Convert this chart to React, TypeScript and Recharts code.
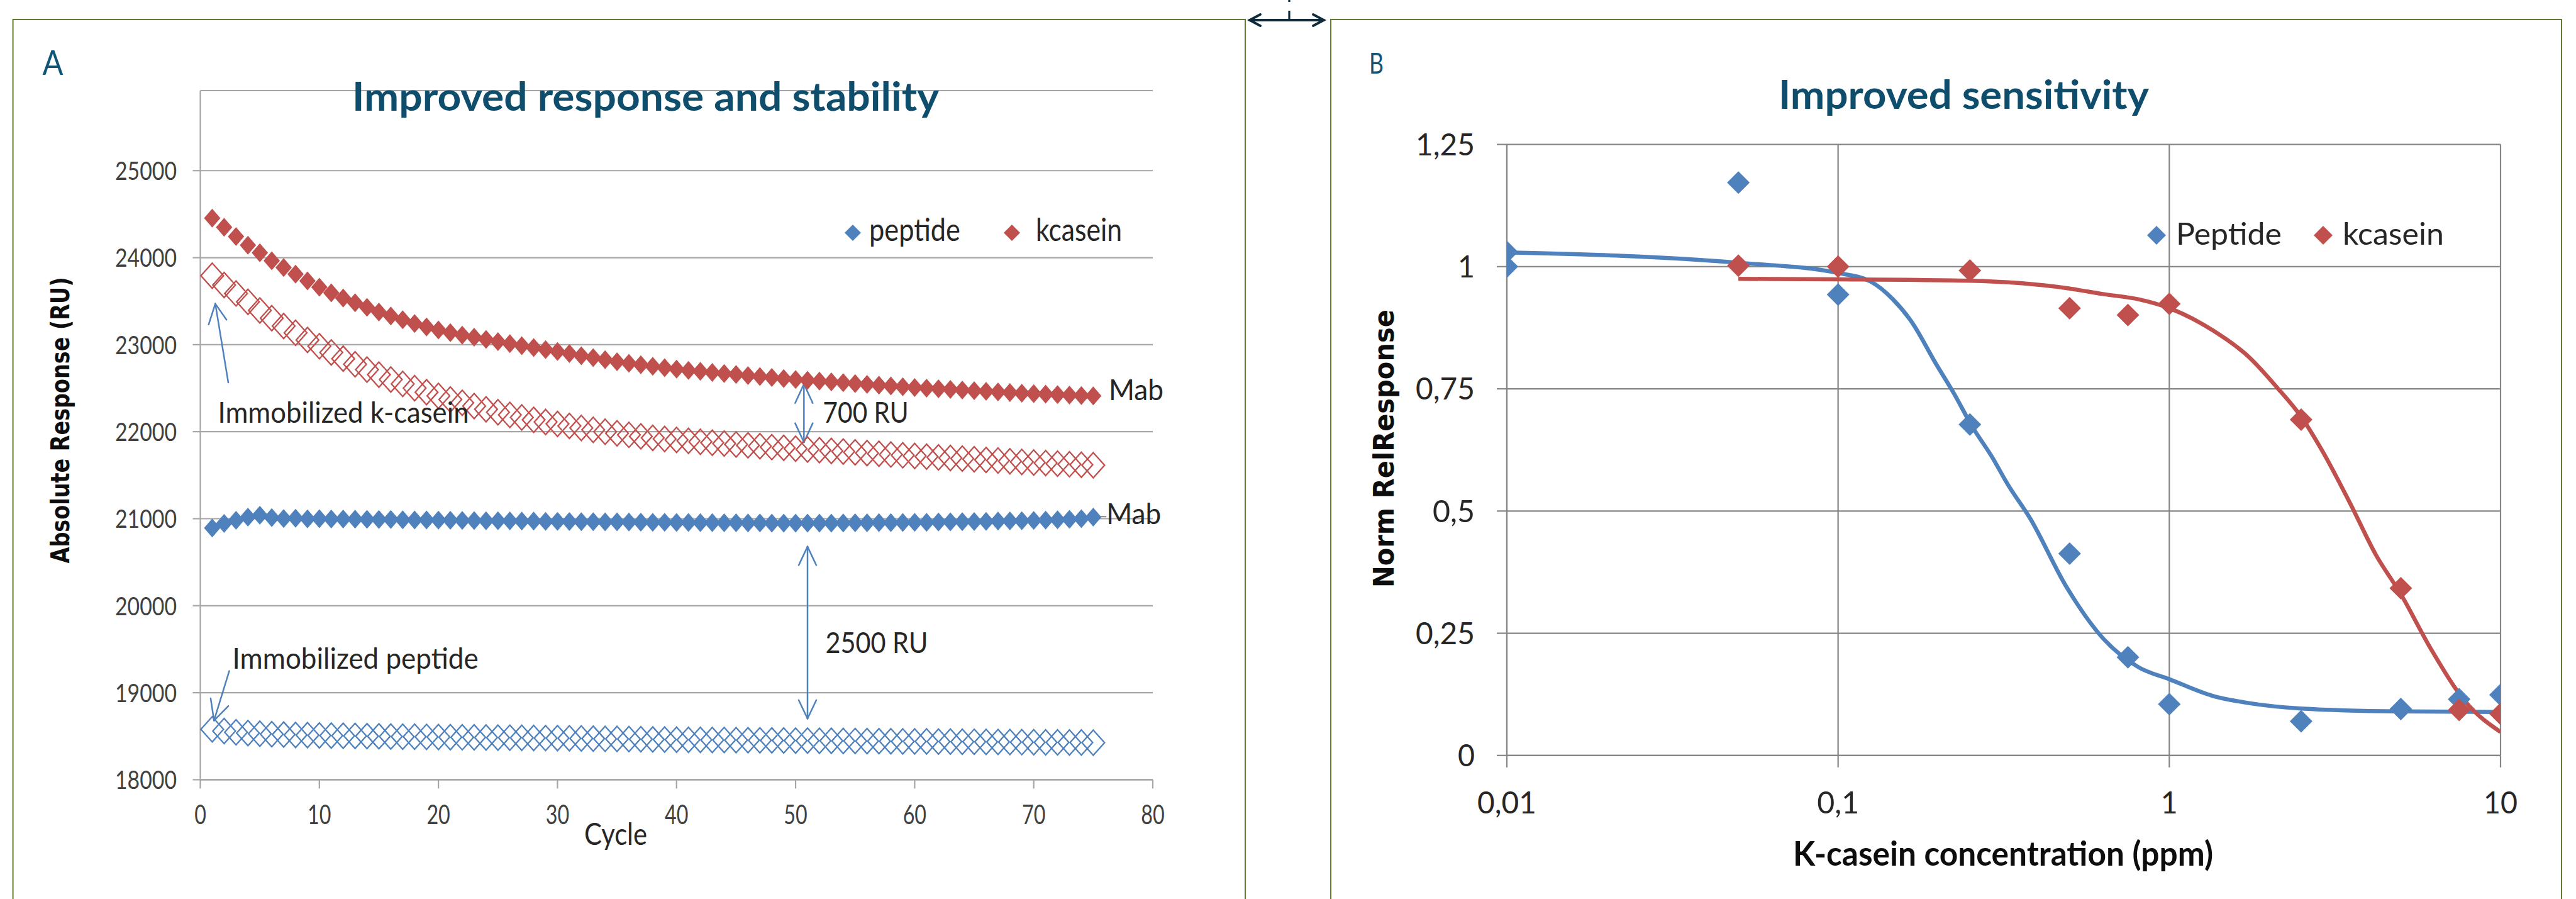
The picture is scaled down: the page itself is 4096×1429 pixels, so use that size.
import React from "react";
import {
  CartesianGrid,
  ComposedChart,
  Legend,
  Line,
  ReferenceDot,
  ReferenceLine,
  Scatter,
  XAxis,
  YAxis,
} from "recharts";

const FONT = "Lato, 'Open Sans', sans-serif";
const WIDE = "'DejaVu Sans', Verdana, sans-serif";
const BLUE = "#4f81bd";
const RED = "#c0504d";
const TEAL = "#0f4d6d";
const FRAME = "#627d33";

// ---- panel A: response per cycle (cycles 1..75) ----
const kcaseinMab = [
  24454, 24350, 24243, 24143, 24057, 23964, 23886, 23810, 23732, 23660,
  23596, 23536, 23482, 23429, 23375, 23329, 23286, 23243, 23204, 23168,
  23138, 23110, 23085, 23060, 23036, 23012, 22989, 22966, 22943, 22921,
  22897, 22873, 22850, 22827, 22804, 22786, 22769, 22752, 22735, 22718,
  22705, 22693, 22681, 22669, 22657, 22645, 22634, 22623, 22611, 22600,
  22590, 22581, 22572, 22563, 22553, 22544, 22535, 22525, 22516, 22507,
  22500, 22493, 22486, 22479, 22472, 22464, 22457, 22450, 22443, 22436,
  22431, 22426, 22421, 22416, 22411,
];
const kcaseinImm = [
  23793, 23686, 23589, 23493, 23393, 23304, 23214, 23136, 23054, 22982,
  22910, 22839, 22775, 22714, 22656, 22600, 22549, 22500, 22454, 22411,
  22370, 22332, 22294, 22257, 22224, 22193, 22164, 22136, 22112, 22089,
  22066, 22043, 22021, 22000, 21982, 21964, 21946, 21929, 21916, 21905,
  21894, 21884, 21873, 21863, 21853, 21843, 21833, 21823, 21814, 21804,
  21795, 21787, 21779, 21771, 21763, 21754, 21746, 21738, 21729, 21721,
  21713, 21705, 21698, 21690, 21683, 21675, 21668, 21660, 21652, 21645,
  21639, 21633, 21626, 21620, 21614,
];
const peptideMab = [
  20893, 20946, 20982, 21018, 21040, 21012, 21002, 21006, 20998, 21000,
  20997, 20996, 20994, 20993, 20991, 20990, 20988, 20986, 20985, 20983,
  20982, 20980, 20979, 20977, 20976, 20974, 20973, 20972, 20970, 20969,
  20968, 20966, 20965, 20964, 20963, 20962, 20960, 20959, 20958, 20957,
  20956, 20955, 20954, 20953, 20952, 20951, 20951, 20950, 20950, 20949,
  20949, 20950, 20950, 20951, 20952, 20953, 20954, 20955, 20956, 20958,
  20959, 20961, 20963, 20965, 20967, 20969, 20972, 20974, 20977, 20980,
  20984, 20988, 20993, 21000, 21018,
];
const peptideImm = [
  18580, 18560, 18545, 18536, 18529, 18523, 18519, 18515, 18512, 18509,
  18507, 18505, 18503, 18501, 18499, 18497, 18495, 18494, 18492, 18491,
  18489, 18488, 18487, 18485, 18484, 18483, 18482, 18480, 18479, 18478,
  18476, 18474, 18472, 18470, 18469, 18467, 18465, 18463, 18462, 18460,
  18459, 18458, 18457, 18456, 18455, 18454, 18453, 18452, 18451, 18450,
  18449, 18448, 18447, 18446, 18445, 18444, 18443, 18442, 18441, 18441,
  18440, 18439, 18438, 18437, 18436, 18435, 18434, 18433, 18432, 18431,
  18430, 18429, 18428, 18427, 18426,
];
const cycleTicks = [0, 10, 20, 30, 40, 50, 60, 70, 80];
const ruTicks = [18000, 19000, 20000, 21000, 22000, 23000, 24000, 25000];

// annotation anchors (data space: cycle, RU)
const notesA = [
  { x: 1.48, y: 22101, text: "Immobilized k-casein" },
  { x: 2.7, y: 19274, text: "Immobilized peptide" },
  { x: 52.3, y: 22101, text: "700 RU" },
  { x: 52.5, y: 19458, text: "2500 RU" },
  { x: 76.3, y: 22360, text: "Mab" },
  { x: 76.1, y: 20940, text: "Mab" },
];
const noteWidth: Record<string, number> = {
  "Immobilized k-casein": 399,
  "Immobilized peptide": 391,
  "700 RU": 136,
  "2500 RU": 163,
  Mab: 87,
};
// arrow strokes [x1, y1, x2, y2]
const arrowSegs = [
  [2.35, 22565, 1.26, 23470],
  [1.26, 23470, 0.7, 23232],
  [1.26, 23470, 2.2, 23286],
  [2.43, 19250, 1.15, 18680],
  [1.15, 18680, 0.87, 18936],
  [1.15, 18680, 2.35, 18847],
  [50.7, 22548, 50.7, 21878],
  [50.7, 22548, 49.96, 22328],
  [50.7, 22548, 51.44, 22328],
  [50.7, 21878, 49.96, 22098],
  [50.7, 21878, 51.44, 22098],
  [51.0, 20679, 51.0, 18702],
  [51.0, 20679, 50.26, 20465],
  [51.0, 20679, 51.74, 20465],
  [51.0, 18702, 50.26, 18916],
  [51.0, 18702, 51.74, 18916],
];
const mabLeader = [75.4, 21022, 76.1, 21022];

// ---- panel B: dose response ----
const pepX = [0.01, 0.01, 0.05, 0.1, 0.25, 0.5, 0.75, 1, 2.5, 5, 7.5, 10];
const pepY = [1.03, 1.0, 1.172, 0.943, 0.677, 0.413, 0.201, 0.105, 0.07, 0.095, 0.115, 0.124];
const casX = [0.05, 0.1, 0.25, 0.5, 0.75, 1, 2.5, 5, 7.5, 10];
const casY = [1.002, 1.0, 0.992, 0.915, 0.901, 0.924, 0.687, 0.342, 0.093, 0.085];
const pepFitX = [0.01, 0.05, 0.1, 0.125, 0.146, 0.166, 0.198, 0.224, 0.254, 0.292, 0.325, 0.38, 0.49, 0.63, 0.81, 1, 1.35, 1.74, 2.5, 5, 10];
const pepFitY = [1.029, 1.008, 0.987, 0.97, 0.934, 0.889, 0.8, 0.74, 0.673, 0.61, 0.555, 0.485, 0.344, 0.24, 0.18, 0.156, 0.122, 0.107, 0.096, 0.09, 0.089];
const casFitX = [0.05, 0.1, 0.25, 0.49, 0.63, 0.81, 1, 1.35, 1.74, 2.12, 2.5, 2.88, 3.52, 4.2, 5, 6.15, 7.9, 10];
const casFitY = [0.975, 0.974, 0.971, 0.956, 0.944, 0.933, 0.915, 0.87, 0.815, 0.752, 0.693, 0.626, 0.515, 0.411, 0.33, 0.219, 0.107, 0.048];
const concTicks = [0.01, 0.1, 1, 10];
const normTicks = [0, 0.25, 0.5, 0.75, 1, 1.25];

const byCycle = (vals: number[]) => vals.map((y, i) => ({ x: i + 1, y }));
const zip = (xs: number[], ys: number[]) => xs.map((x, i) => ({ x, y: ys[i] }));
const comma = (v: number) => String(v).replace(".", ",");

function diamond(rx: number, ry: number, fill: string, stroke = "none", sw = 0) {
  return (p: any) => {
    if (p.cx == null || p.cy == null) return <g />;
    const { cx, cy } = p;
    return (
      <polygon
        points={`${cx},${cy - ry} ${cx + rx},${cy} ${cx},${cy + ry} ${cx - rx},${cy}`}
        fill={fill}
        stroke={stroke}
        strokeWidth={sw}
      />
    );
  };
}

const GRID_A = "#a6a6a6";
const GRID_B = "#868686";

const TickA_Y = (p: any) => {
  const s = String(p.payload.value);
  return (
    <text x={p.x} y={p.y} dy="0.36em" textAnchor="end" fontFamily={FONT} fontSize={41} fill="#404040"
      textLength={s.length * 19.6} lengthAdjust="spacingAndGlyphs">{s}</text>
  );
};
const TickA_X = (p: any) => {
  const s = String(p.payload.value);
  return (
    <text x={p.x} y={p.y + 57} textAnchor="middle" fontFamily={FONT} fontSize={43} fill="#404040"
      textLength={s.length * 18.7} lengthAdjust="spacingAndGlyphs">{s}</text>
  );
};
const tickLen = (s: string) => s.replace(/[^0-9]/g, "").length * 27 + (s.includes(",") ? 13 : 0);
const TickB_Y = (p: any) => {
  const s = comma(p.payload.value);
  return (
    <text x={p.x} y={p.y} dy="0.36em" textAnchor="end" fontFamily={FONT} fontSize={48} fill="#262626"
      textLength={tickLen(s)} lengthAdjust="spacingAndGlyphs">{s}</text>
  );
};
const TickB_X = (p: any) => {
  const s = comma(p.payload.value);
  return (
    <text x={p.x} y={p.y + 73} textAnchor="middle" fontFamily={FONT} fontSize={48} fill="#262626"
      textLength={tickLen(s)} lengthAdjust="spacingAndGlyphs">{s}</text>
  );
};

const noteShape = (text: string) => (p: any) => (
  <text x={p.cx} y={p.cy} fontFamily={FONT} fontSize={46} fill="#262626"
    textLength={noteWidth[text]} lengthAdjust="spacingAndGlyphs">{text}</text>
);

const dia = (cx: number, cy: number, r: number, fill: string) => (
  <polygon points={`${cx},${cy - r} ${cx + r},${cy} ${cx},${cy + r} ${cx - r},${cy}`} fill={fill} />
);

// legend boxes are padded so the text boxes stay well inside them
const LegendA = () => (
  <svg width={500} height={100} style={{ overflow: "visible" }}>
    {dia(26, 50, 13, BLUE)}
    <text x={52} y={63} fontFamily={FONT} fontSize={50} fill="#262626" textLength={145} lengthAdjust="spacingAndGlyphs">peptide</text>
    {dia(279, 50, 13, RED)}
    <text x={317} y={63} fontFamily={FONT} fontSize={50} fill="#262626" textLength={137} lengthAdjust="spacingAndGlyphs">kcasein</text>
  </svg>
);
const LegendB = () => (
  <svg width={520} height={100} style={{ overflow: "visible" }}>
    {dia(29, 50, 15, BLUE)}
    <text x={60} y={65} fontFamily={FONT} fontSize={48} fill="#262626" textLength={168} lengthAdjust="spacingAndGlyphs">Peptide</text>
    {dia(294, 50, 15, RED)}
    <text x={325} y={65} fontFamily={FONT} fontSize={48} fill="#262626" textLength={161} lengthAdjust="spacingAndGlyphs">kcasein</text>
  </svg>
);

function PanelA() {
  return (
    <ComposedChart width={2000} height={1429} margin={{ top: 144, right: 167, bottom: 89.6, left: 18.5 }}>
      <CartesianGrid horizontal vertical={false} stroke={GRID_A} strokeWidth={2.2} />
      <XAxis type="number" dataKey="x" domain={[0, 80]} ticks={cycleTicks} interval={0} height={100}
        tick={TickA_X} tickSize={14} tickMargin={0}
        axisLine={{ stroke: GRID_A, strokeWidth: 2.2 }} tickLine={{ stroke: GRID_A, strokeWidth: 2.2 }} />
      <YAxis type="number" dataKey="y" domain={[18000, 25920]} ticks={ruTicks} interval={0} width={300}
        allowDataOverflow tick={TickA_Y} tickSize={12} tickMargin={25.5}
        axisLine={{ stroke: GRID_A, strokeWidth: 2.2 }} tickLine={{ stroke: GRID_A, strokeWidth: 2.2 }} />
      <Legend content={LegendA} layout="horizontal" verticalAlign="middle" align="center"
        wrapperStyle={{ left: 1330, top: 320, width: 500, height: 100 }} />
      <Scatter data={byCycle(peptideImm)} shape={diamond(18, 20, "none", BLUE, 2.3)} isAnimationActive={false} legendType="none" />
      <Scatter data={byCycle(kcaseinImm)} shape={diamond(18, 20, "none", RED, 2.3)} isAnimationActive={false} legendType="none" />
      <Scatter data={byCycle(peptideMab)} shape={diamond(13, 15, BLUE)} isAnimationActive={false} legendType="none" />
      <Scatter data={byCycle(kcaseinMab)} shape={diamond(13, 15, RED)} isAnimationActive={false} legendType="none" />
      {arrowSegs.map((s, i) => (
        <ReferenceLine key={`a${i}`} segment={[{ x: s[0], y: s[1] }, { x: s[2], y: s[3] }]}
          stroke={BLUE} strokeWidth={2.5} strokeLinecap="round" ifOverflow="visible" />
      ))}
      <ReferenceLine segment={[{ x: mabLeader[0], y: mabLeader[1] }, { x: mabLeader[2], y: mabLeader[3] }]}
        stroke="#595959" strokeWidth={1.5} ifOverflow="visible" />
      {notesA.map((n, i) => (
        <ReferenceDot key={`n${i}`} x={n.x} y={n.y} r={0} shape={noteShape(n.text)} ifOverflow="visible" />
      ))}
    </ComposedChart>
  );
}

function PanelB() {
  return (
    <ComposedChart width={1996} height={1429} margin={{ top: 229.6, right: 120, bottom: 128.2, left: 46 }}>
      <CartesianGrid stroke={GRID_B} strokeWidth={2.2} />
      <XAxis type="number" dataKey="x" scale="log" domain={[0.01, 10]} allowDataOverflow ticks={concTicks}
        interval={0} height={100} tick={TickB_X} tickSize={19} tickMargin={0}
        axisLine={{ stroke: GRID_B, strokeWidth: 2.2 }} tickLine={{ stroke: GRID_B, strokeWidth: 2.2 }} />
      <YAxis type="number" dataKey="y" domain={[0, 1.25]} ticks={normTicks} interval={0} width={250}
        allowDataOverflow tick={TickB_Y} tickSize={16} tickMargin={35}
        axisLine={{ stroke: GRID_B, strokeWidth: 2.2 }} tickLine={{ stroke: GRID_B, strokeWidth: 2.2 }} />
      <Legend content={LegendB} layout="horizontal" verticalAlign="middle" align="center"
        wrapperStyle={{ left: 1300, top: 324, width: 520, height: 100 }} />
      <Line data={zip(pepFitX, pepFitY)} dataKey="y" type="monotone" stroke={BLUE} strokeWidth={6.5}
        dot={false} isAnimationActive={false} legendType="none" />
      <Line data={zip(casFitX, casFitY)} dataKey="y" type="monotone" stroke={RED} strokeWidth={6.5}
        dot={false} isAnimationActive={false} legendType="none" />
      <Scatter data={zip(pepX, pepY)} dataKey="y" shape={diamond(18, 18, BLUE)} isAnimationActive={false} legendType="none" />
      <Scatter data={zip(casX, casY)} dataKey="y" shape={diamond(18, 18, RED)} isAnimationActive={false} legendType="none" />
    </ComposedChart>
  );
}

export default function App() {
  return (
    <div style={{ position: "absolute", left: 0, top: 0, width: 4096, height: 1429, background: "#fff", overflow: "hidden" }}>
      <div style={{ position: "absolute", left: 0, top: 0 }}>
        <PanelA />
      </div>
      <div style={{ position: "absolute", left: 2100, top: 0 }}>
        <PanelB />
      </div>
      <svg width={4096} height={1429} style={{ position: "absolute", left: 0, top: 0, pointerEvents: "none" }}>
        <path d="M20.6,1440 V31 H1980 V1440" fill="none" stroke={FRAME} strokeWidth={2} />
        <path d="M2116,1440 V31 H4073 V1440" fill="none" stroke={FRAME} strokeWidth={2} />
        <g stroke="#0f2b3b" strokeWidth={3.8} strokeLinecap="round" fill="none">
          <path d="M1987,32 H2105" />
          <path d="M2004,23 L1987,32 L2004,41" />
          <path d="M2088,23 L2105,32 L2088,41" />
        </g>
        <path d="M2050,0 V3 M2050,17 V31" stroke="#0f2b3b" strokeWidth={3.2} />
        <text x={67.5} y={119} fontFamily={FONT} fontSize={54} fill="#0f5578" textLength={33} lengthAdjust="spacingAndGlyphs">A</text>
        <text x={2177} y={117.4} fontFamily={FONT} fontSize={47} fill="#0f5578" textLength={23} lengthAdjust="spacingAndGlyphs">B</text>
        <text x={560} y={176} fontFamily={FONT} fontWeight={700} fontSize={63} fill={TEAL} textLength={933} lengthAdjust="spacingAndGlyphs">Improved response and stability</text>
        <text x={2828} y={173} fontFamily={FONT} fontWeight={700} fontSize={63} fill={TEAL} textLength={589} lengthAdjust="spacingAndGlyphs">Improved sensitivity</text>
        <text x={109.5} y={668} transform="rotate(-90 109.5 668)" textAnchor="middle" fontFamily={WIDE} fontWeight={700} fontSize={40} fill="#0d0d0d" textLength={455} lengthAdjust="spacingAndGlyphs">Absolute Response (RU)</text>
        <text x={2216} y={713} transform="rotate(-90 2216 713)" textAnchor="middle" fontFamily={WIDE} fontWeight={700} fontSize={45} fill="#0d0d0d" textLength={442} lengthAdjust="spacingAndGlyphs">Norm RelResponse</text>
        <text x={979} y={1343} textAnchor="middle" fontFamily={FONT} fontSize={48} fill="#262626" textLength={100} lengthAdjust="spacingAndGlyphs">Cycle</text>
        <text x={3185} y={1376} textAnchor="middle" fontFamily={FONT} fontWeight={700} fontSize={53} fill="#0d0d0d" textLength={668} lengthAdjust="spacingAndGlyphs">K-casein concentration (ppm)</text>
      </svg>
    </div>
  );
}
